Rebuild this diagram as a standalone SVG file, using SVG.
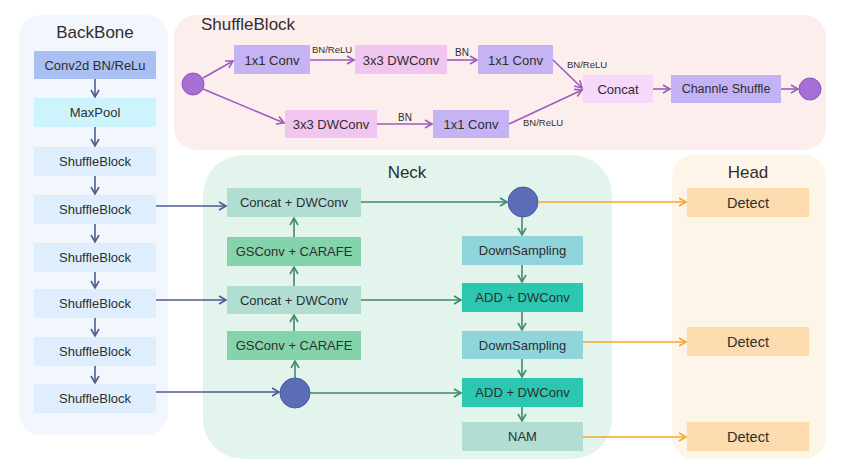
<svg xmlns="http://www.w3.org/2000/svg" width="849" height="474" viewBox="0 0 849 474">
<style>
text{font-family:"Liberation Sans",Arial,sans-serif;fill:#2e2e2e;text-anchor:middle;dominant-baseline:central}
.t{font-size:17px}
.b{font-size:13px}
.d{font-size:14.5px}
.s{font-size:9.5px}
.ln{fill:none;stroke-width:1.6}
.pu{stroke:#9a5cc0}
.bl{stroke:#4b5a95}
.gr{stroke:#3e8a6d}
.or{stroke:#f9a52a}
</style>
<defs>
<marker id="mpu" markerUnits="userSpaceOnUse" markerWidth="10" markerHeight="10" refX="8" refY="5" orient="auto"><path d="M1,1 L8,5 L1,9" fill="none" stroke="#9a5cc0" stroke-width="1.6"/></marker>
<marker id="mbl" markerUnits="userSpaceOnUse" markerWidth="10" markerHeight="10" refX="8" refY="5" orient="auto"><path d="M1,1 L8,5 L1,9" fill="none" stroke="#4b5a95" stroke-width="1.6"/></marker>
<marker id="mgr" markerUnits="userSpaceOnUse" markerWidth="10" markerHeight="10" refX="8" refY="5" orient="auto"><path d="M1,1 L8,5 L1,9" fill="none" stroke="#3e8a6d" stroke-width="1.6"/></marker>
<marker id="mor" markerUnits="userSpaceOnUse" markerWidth="10" markerHeight="10" refX="8" refY="5" orient="auto"><path d="M1,1 L8,5 L1,9" fill="none" stroke="#f9a52a" stroke-width="1.6"/></marker>
</defs>
<rect width="849" height="474" fill="#fff"/>
<g id="panels">
<rect x="19" y="15" width="149" height="420" rx="22" fill="#f2f7fd"/>
<rect x="174" y="15" width="652" height="135" rx="22" fill="#fdeeee"/>
<rect x="203" y="155" width="409" height="304" rx="40" fill="#e2f4ec"/>
<rect x="672" y="155" width="154" height="304" rx="22" fill="#fef5e9"/>
<text class="t" x="95" y="32">BackBone</text>
<text class="t" x="248" y="24">ShuffleBlock</text>
<text class="t" x="407" y="172">Neck</text>
<text class="t" x="748" y="172">Head</text>
</g>
<g id="backbone">
<g id="bb1"><rect x="34" y="51" width="122" height="28" fill="#aabff2"/><text class="b" x="95" y="65">Conv2d BN/ReLu</text></g>
<g id="bb2"><rect x="34" y="98" width="122" height="29" fill="#cdf4fc"/><text class="b" x="95" y="112.5">MaxPool</text></g>
<g id="bb3"><rect x="34" y="147" width="122" height="29" fill="#dfeefc"/><text class="b" x="95" y="161.5">ShuffleBlock</text></g>
<g id="bb4"><rect x="34" y="195" width="122" height="29" fill="#dfeefc"/><text class="b" x="95" y="209.5">ShuffleBlock</text></g>
<g id="bb5"><rect x="34" y="243" width="122" height="29" fill="#dfeefc"/><text class="b" x="95" y="257.5">ShuffleBlock</text></g>
<g id="bb6"><rect x="34" y="289" width="122" height="29" fill="#dfeefc"/><text class="b" x="95" y="303.5">ShuffleBlock</text></g>
<g id="bb7"><rect x="34" y="337" width="122" height="29" fill="#dfeefc"/><text class="b" x="95" y="351.5">ShuffleBlock</text></g>
<g id="bb8"><rect x="34" y="384" width="122" height="29" fill="#dfeefc"/><text class="b" x="95" y="398.5">ShuffleBlock</text></g>
</g>
<g id="shuffle">
<g id="sin"><circle cx="193" cy="84" r="11" fill="#a66fd3" stroke="#8a55b8"/></g>
<g id="s1"><rect x="234" y="45" width="76" height="29" fill="#c6b3f4"/><text class="b" x="272" y="60">1x1 Conv</text></g>
<g id="s2"><rect x="355" y="45" width="92" height="29" fill="#f0c5ef"/><text class="b" x="401" y="60">3x3 DWConv</text></g>
<g id="s3"><rect x="478" y="45" width="75" height="29" fill="#c6b3f4"/><text class="b" x="515.5" y="60">1x1 Conv</text></g>
<g id="s4"><rect x="285" y="110" width="92" height="28" fill="#f0c5ef"/><text class="b" x="331" y="124">3x3 DWConv</text></g>
<g id="s5"><rect x="433" y="110" width="76" height="28" fill="#c6b3f4"/><text class="b" x="471" y="124">1x1 Conv</text></g>
<g id="s6"><rect x="583" y="75" width="70" height="28" fill="#f5d8fa"/><text class="b" x="618" y="89">Concat</text></g>
<g id="s7"><rect x="671" y="75" width="110" height="28" fill="#c4b2f6"/><text class="b" x="726" y="89" style="font-size:12.5px">Channle Shuffle</text></g>
<g id="sout"><circle cx="810" cy="89" r="11" fill="#a66fd3" stroke="#8a55b8"/></g>
</g>
<g id="neck">
<g id="n1"><rect x="227" y="188" width="134" height="29" fill="#b2ddd3"/><text class="b" x="294" y="202.5">Concat + DWConv</text></g>
<g id="n2"><rect x="227" y="237" width="134" height="29" fill="#84d3ab"/><text class="b" x="294" y="251.5">GSConv + CARAFE</text></g>
<g id="n3"><rect x="227" y="286" width="134" height="28" fill="#b2ddd3"/><text class="b" x="294" y="300">Concat + DWConv</text></g>
<g id="n4"><rect x="227" y="331" width="134" height="29" fill="#84d3ab"/><text class="b" x="294" y="345.5">GSConv + CARAFE</text></g>
<g id="nc1"><circle cx="295" cy="393" r="15" fill="#5b6db9" stroke="#4a5aa0"/></g>
<g id="nc2"><circle cx="523" cy="202" r="15" fill="#5b6db9" stroke="#4a5aa0"/></g>
<g id="n5"><rect x="462" y="236" width="121" height="29" fill="#8fd5db"/><text class="b" x="522.5" y="250.5">DownSampling</text></g>
<g id="n6"><rect x="462" y="283" width="121" height="29" fill="#2cc7b1"/><text class="b" x="522.5" y="297.5">ADD + DWConv</text></g>
<g id="n7"><rect x="462" y="331" width="121" height="28" fill="#8fd5db"/><text class="b" x="522.5" y="345">DownSampling</text></g>
<g id="n8"><rect x="462" y="378" width="121" height="29" fill="#2cc7b1"/><text class="b" x="522.5" y="392.5">ADD + DWConv</text></g>
<g id="n9"><rect x="462" y="422" width="121" height="29" fill="#b2ddd3"/><text class="b" x="522.5" y="436.5">NAM</text></g>
</g>
<g id="head">
<g id="h1"><rect x="687" y="188" width="122" height="29" fill="#fcdcae"/><text class="d" x="748" y="202.5">Detect</text></g>
<g id="h2"><rect x="687" y="327" width="122" height="29" fill="#fcdcae"/><text class="d" x="748" y="341.5">Detect</text></g>
<g id="h3"><rect x="687" y="422" width="122" height="29" fill="#fcdcae"/><text class="d" x="748" y="436.5">Detect</text></g>
</g>
<g id="connectors">
<g class="ln bl">
<line x1="95" y1="79" x2="95" y2="97" marker-end="url(#mbl)"/>
<line x1="95" y1="127" x2="95" y2="146" marker-end="url(#mbl)"/>
<line x1="95" y1="176" x2="95" y2="194" marker-end="url(#mbl)"/>
<line x1="95" y1="224" x2="95" y2="242" marker-end="url(#mbl)"/>
<line x1="95" y1="272" x2="95" y2="288" marker-end="url(#mbl)"/>
<line x1="95" y1="318" x2="95" y2="336" marker-end="url(#mbl)"/>
<line x1="95" y1="366" x2="95" y2="383" marker-end="url(#mbl)"/>
<line x1="156" y1="206" x2="226" y2="206" marker-end="url(#mbl)"/>
<line x1="156" y1="300" x2="226" y2="300" marker-end="url(#mbl)"/>
<line x1="156" y1="392" x2="279" y2="392" marker-end="url(#mbl)"/>
</g>
<g class="ln pu">
<line x1="203" y1="78" x2="233" y2="61" marker-end="url(#mpu)"/>
<line x1="203" y1="89" x2="284" y2="123" marker-end="url(#mpu)"/>
<line x1="310" y1="60" x2="354" y2="60" marker-end="url(#mpu)"/>
<line x1="447" y1="60" x2="477" y2="60" marker-end="url(#mpu)"/>
<line x1="377" y1="124" x2="432" y2="124" marker-end="url(#mpu)"/>
<line x1="553" y1="60" x2="582" y2="88" marker-end="url(#mpu)"/>
<line x1="509" y1="124" x2="582" y2="90" marker-end="url(#mpu)"/>
<line x1="653" y1="89" x2="670" y2="89" marker-end="url(#mpu)"/>
<line x1="781" y1="89" x2="798" y2="89" marker-end="url(#mpu)"/>
</g>
<text class="s" x="332" y="49">BN/ReLU</text>
<text class="s" x="462" y="52" style="font-size:10px">BN</text>
<text class="s" x="405" y="117" style="font-size:10px">BN</text>
<text class="s" x="543" y="122">BN/ReLU</text>
<text class="s" x="587" y="64">BN/ReLU</text>
<g class="ln gr">
<line x1="294" y1="237" x2="294" y2="218" marker-end="url(#mgr)"/>
<line x1="294" y1="286" x2="294" y2="267" marker-end="url(#mgr)"/>
<line x1="294" y1="331" x2="294" y2="315" marker-end="url(#mgr)"/>
<line x1="295" y1="378" x2="295" y2="361" marker-end="url(#mgr)"/>
<line x1="361" y1="202" x2="507" y2="202" marker-end="url(#mgr)"/>
<line x1="361" y1="300" x2="461" y2="300" marker-end="url(#mgr)"/>
<line x1="310" y1="393" x2="461" y2="393" marker-end="url(#mgr)"/>
<line x1="522" y1="217" x2="522" y2="235" marker-end="url(#mgr)"/>
<line x1="522" y1="265" x2="522" y2="282" marker-end="url(#mgr)"/>
<line x1="522" y1="312" x2="522" y2="330" marker-end="url(#mgr)"/>
<line x1="522" y1="359" x2="522" y2="377" marker-end="url(#mgr)"/>
<line x1="522" y1="407" x2="522" y2="421" marker-end="url(#mgr)"/>
</g>
<g class="ln or">
<line x1="538" y1="202" x2="686" y2="202" marker-end="url(#mor)"/>
<line x1="583" y1="342" x2="686" y2="342" marker-end="url(#mor)"/>
<line x1="583" y1="437" x2="686" y2="437" marker-end="url(#mor)"/>
</g>
</g>
</svg>
